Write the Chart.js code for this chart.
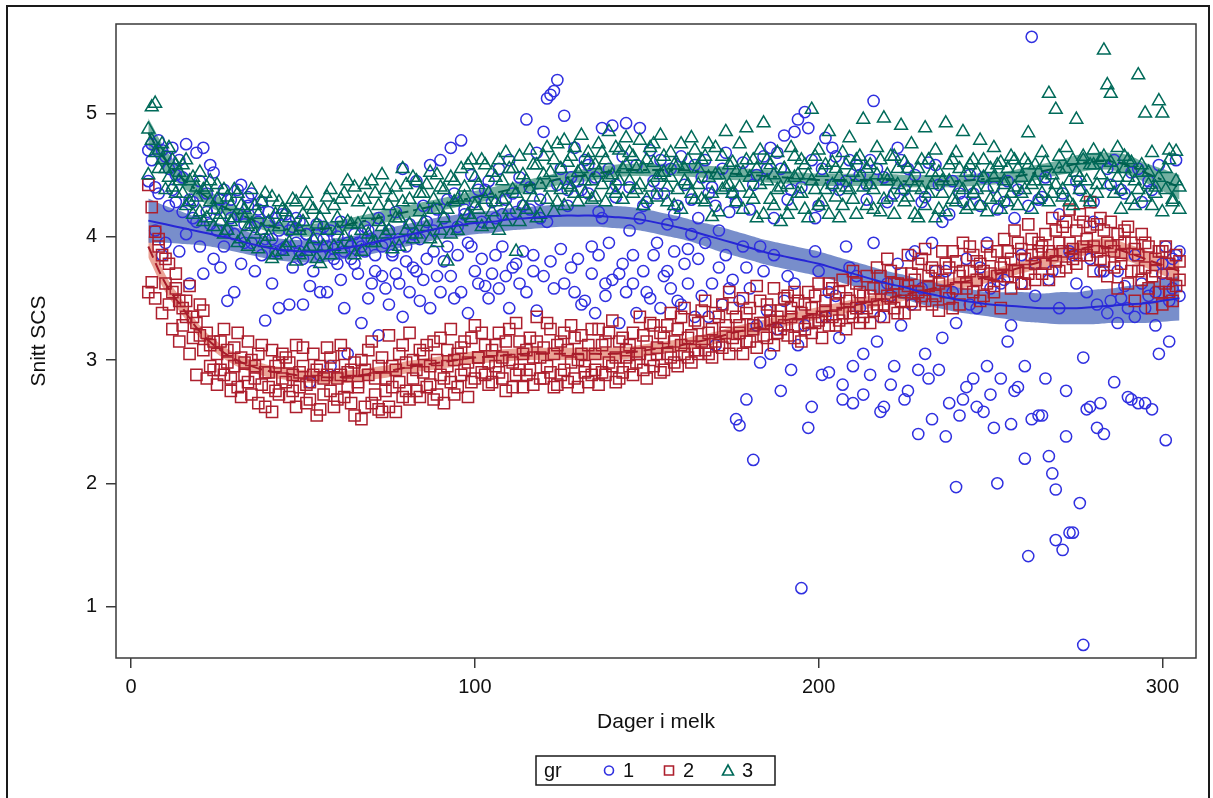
<!DOCTYPE html>
<html>
<head>
<meta charset="utf-8">
<title>Snitt SCS etter dager i melk</title>
<script src="https://cdn.jsdelivr.net/npm/chart.js@4.4.1/dist/chart.umd.min.js"></script>
<style>
  html, body { margin: 0; padding: 0; background: #fff; }
  #wrap { width: 1213px; height: 798px; }
</style>
</head>
<body>
<div id="wrap"><canvas id="c" width="1213" height="798"></canvas></div>
<script>
// Days in milk start at day 5; every group has two herd means per day (A and B).
const firstDay = 5;
const groupNames = ['1', '2', '3'];

// gr 1
const group1A = [
4.70,4.75,4.40,4.78,3.85,4.65,4.55,4.72,4.28,4.62,
4.48,4.75,4.30,4.15,4.68,3.92,4.72,4.35,4.10,4.52,
4.22,3.75,4.38,4.05,4.30,3.55,4.18,4.42,3.95,4.25,
4.35,3.72,4.12,4.28,3.98,4.20,3.62,4.15,4.05,3.90,
4.18,3.45,4.08,3.95,4.12,3.82,4.02,3.60,3.92,4.10,
3.85,3.98,3.55,4.05,3.90,3.78,4.12,3.42,3.95,3.82,
4.02,3.70,3.92,4.08,3.50,3.98,3.85,4.15,3.68,3.95,
4.05,3.88,4.20,3.62,4.55,3.92,4.10,3.75,4.45,3.98,
4.25,3.82,4.58,4.05,3.68,4.62,4.15,3.92,4.72,4.35,
4.08,4.78,4.22,3.95,4.50,3.72,4.38,4.12,3.60,4.45,
4.28,3.85,4.55,4.18,3.68,4.62,4.35,3.78,4.48,4.25,
4.95,4.40,3.72,4.68,4.30,4.85,4.12,3.80,5.18,5.27,
4.55,4.98,4.38,3.75,4.72,4.45,3.45,4.62,4.35,3.92,
4.48,4.20,4.88,3.62,4.55,4.90,4.32,3.70,4.65,4.92,
4.40,3.85,4.58,4.88,4.25,3.55,4.70,4.45,3.95,4.62,
4.35,3.72,4.55,4.18,3.48,4.65,4.42,3.90,4.30,4.58,
3.82,4.48,4.62,3.35,4.40,4.25,3.75,4.55,4.68,3.58,
4.35,2.52,2.47,4.60,3.75,4.22,2.19,4.50,3.92,4.65,
3.40,4.72,4.15,3.25,4.55,4.82,3.68,4.38,4.85,3.12,
1.15,5.01,2.45,4.62,3.88,4.25,2.88,4.80,3.55,4.42,
4.65,3.18,2.68,4.45,3.75,2.95,4.58,3.42,2.72,4.30,
4.62,5.10,3.15,2.58,4.48,3.62,2.80,4.35,4.72,3.28,
2.68,4.55,3.45,3.88,2.92,4.28,3.05,4.60,2.52,3.72,
4.42,3.18,2.38,4.18,3.55,1.97,4.35,2.68,3.82,4.50,
2.85,3.42,4.25,2.58,3.95,2.72,4.40,2.00,3.62,4.28,
3.15,2.48,4.15,2.78,3.85,2.20,1.41,5.62,3.52,2.55,
4.32,2.85,3.65,2.08,1.54,4.18,1.46,2.75,3.88,1.60,
4.45,1.84,0.69,3.55,2.62,4.28,2.45,3.72,2.40,4.55,
3.48,4.62,3.30,4.38,3.60,2.70,4.52,3.35,2.65,4.28,
3.42,4.45,2.60,3.55,4.58,3.78,2.35,3.48,3.82,4.62,
3.52];
const group1B = [
4.45,4.62,4.05,4.35,4.70,3.95,4.25,4.38,4.50,3.88,
4.20,4.02,3.62,4.28,4.12,4.45,3.70,4.20,4.58,3.82,
4.05,4.30,3.92,3.48,4.15,4.02,4.38,3.78,4.10,4.32,
3.95,4.08,4.22,3.85,3.32,4.12,3.98,3.88,3.42,4.18,
3.92,4.05,3.75,4.15,3.88,3.45,4.02,2.82,3.72,3.98,
3.55,4.08,3.92,2.95,3.82,4.00,3.65,3.88,3.05,3.92,
3.78,3.95,3.30,3.88,4.05,3.62,3.72,3.20,3.92,3.58,
3.45,3.85,3.70,3.98,3.35,3.80,3.55,4.02,3.72,3.48,
3.65,4.12,3.42,3.88,4.22,3.55,3.80,4.30,3.68,3.50,
3.85,3.55,4.18,3.38,3.92,4.28,3.62,3.82,4.38,3.50,
3.70,4.15,3.58,3.92,4.30,3.42,3.75,4.20,3.62,3.88,
3.55,4.22,3.85,3.40,4.15,3.68,5.12,5.15,3.58,4.42,
3.90,3.62,4.25,4.48,3.55,3.82,4.38,3.48,4.58,3.70,
3.38,3.85,4.15,3.52,3.95,3.65,4.42,3.30,3.78,3.55,
4.05,3.62,3.38,4.15,3.72,4.28,3.50,3.85,4.35,3.42,
3.68,4.10,3.58,3.88,4.25,3.45,3.78,3.62,4.02,3.35,
4.15,3.52,3.95,4.35,3.62,3.12,4.05,3.45,3.85,4.20,
3.65,4.28,3.48,3.92,2.68,3.58,4.42,3.28,2.98,3.72,
4.55,3.05,3.85,4.68,2.75,3.48,4.30,2.92,3.62,4.95,
4.40,3.28,4.88,2.62,4.15,3.72,4.55,3.35,2.90,4.72,
3.52,4.38,2.80,3.92,4.62,2.65,3.68,4.50,3.05,4.42,
2.88,3.95,4.55,3.35,2.62,4.28,3.52,2.95,3.78,4.62,
4.38,2.75,3.85,4.50,2.40,3.58,4.32,2.85,3.95,4.58,
2.92,4.12,3.72,2.65,4.45,3.30,2.55,4.28,2.78,3.45,
4.35,2.62,3.75,4.48,2.95,3.58,2.45,4.22,2.85,3.65,
4.45,3.28,2.75,4.38,3.62,2.95,4.25,2.52,3.78,4.30,
2.55,4.48,2.22,3.72,1.95,3.42,4.35,2.38,1.60,3.85,
3.62,4.38,3.02,2.60,3.82,4.12,3.45,2.65,3.72,3.38,
4.42,2.82,3.72,3.50,4.35,3.42,2.68,3.85,4.55,3.62,
2.65,3.52,4.38,3.28,3.05,3.70,3.92,3.15,3.58,3.85,
3.88];

// gr 2
const group2A = [
4.42,4.24,4.04,3.98,3.85,3.62,3.78,3.55,3.70,3.48,
3.42,3.35,3.60,3.18,3.30,3.45,3.08,3.22,2.95,3.15,
3.05,2.92,3.25,2.98,2.85,3.10,2.78,3.02,2.88,3.15,
2.72,2.95,3.05,2.80,2.62,2.90,3.08,2.75,2.98,2.85,
3.02,2.70,2.88,3.12,2.78,2.95,2.65,2.82,3.05,2.92,
2.60,2.85,3.10,2.75,2.95,2.68,2.88,3.05,2.78,2.92,
2.55,2.82,3.00,2.62,2.88,3.15,2.72,2.95,2.58,2.85,
3.20,2.78,2.92,3.05,2.70,2.98,3.22,2.85,2.75,3.08,
2.90,3.12,2.80,2.68,3.00,3.18,2.85,2.95,3.25,2.72,
3.05,2.88,3.15,2.98,2.82,3.28,3.02,2.90,3.12,2.80,
3.08,2.95,3.22,2.85,3.15,3.00,2.78,3.30,2.92,3.05,
2.88,3.18,3.02,3.35,2.85,3.10,2.95,3.25,3.05,2.80,
3.15,2.92,3.08,3.28,2.85,3.00,3.20,2.95,3.12,2.88,
3.05,3.25,2.90,3.15,2.98,3.32,3.02,2.85,3.18,3.08,
2.95,3.22,3.05,3.35,2.92,3.15,3.00,3.28,3.10,2.90,
3.18,3.05,3.38,2.98,3.25,3.12,3.42,3.02,3.20,3.08,
3.30,3.15,3.48,3.05,3.25,3.38,3.12,3.45,3.22,3.55,
3.18,3.35,3.28,3.50,3.15,3.42,3.25,3.60,3.30,3.20,
3.45,3.32,3.58,3.22,3.40,3.28,3.52,3.35,3.18,3.48,
3.38,3.25,3.55,3.42,3.30,3.62,3.35,3.48,3.28,3.58,
3.45,3.32,3.65,3.50,3.38,3.72,3.42,3.55,3.35,3.68,
3.52,3.40,3.75,3.58,3.45,3.82,3.50,3.62,3.38,3.70,
3.55,3.85,3.48,3.65,3.78,3.52,3.90,3.60,3.45,3.72,
3.62,3.88,3.55,3.75,3.42,3.80,3.68,3.95,3.58,3.72,
3.85,3.65,3.78,3.52,3.92,3.70,3.60,3.88,3.75,3.98,
3.68,3.82,4.05,3.72,3.90,3.62,4.10,3.85,3.78,3.95,
3.70,4.02,3.88,4.15,3.80,3.95,4.08,3.75,4.22,3.90,
4.05,3.85,4.12,3.98,4.28,3.92,4.10,3.82,4.05,3.95,
4.12,3.88,4.02,3.78,3.95,4.08,3.72,3.90,3.85,4.02,
3.75,3.92,3.68,3.82,3.55,3.88,3.62,3.78,3.48,3.85,
3.65];
const group2B = [
3.55,3.63,3.50,3.92,3.38,3.82,3.45,3.25,3.58,3.15,
3.28,3.48,3.05,3.35,2.88,3.20,3.40,2.85,3.12,2.92,
2.80,3.15,2.88,3.08,2.75,2.95,3.22,2.70,2.98,2.82,
3.00,2.85,2.65,3.12,2.90,2.78,2.58,2.95,2.72,3.05,
2.82,2.98,2.75,2.62,2.90,3.10,2.80,2.68,2.88,2.55,
2.95,2.72,2.88,3.02,2.62,2.85,3.12,2.70,2.90,2.65,
2.98,2.78,2.52,2.92,3.08,2.65,2.85,2.60,3.02,2.75,
2.62,2.95,2.58,2.82,3.12,2.75,2.68,3.00,2.92,2.70,
3.05,2.78,2.95,3.15,2.72,2.88,2.65,3.08,2.82,3.00,
2.78,3.10,2.92,2.70,3.18,2.85,3.02,3.22,2.88,2.98,
2.82,3.12,2.90,3.02,2.75,3.25,2.98,2.88,3.15,2.78,
3.08,2.92,2.80,3.15,3.02,2.85,3.30,2.90,2.78,3.12,
2.88,3.22,2.82,2.98,3.18,2.78,3.05,2.90,2.82,3.25,
2.92,2.80,3.12,2.88,3.22,2.95,2.82,3.15,2.90,3.02,
3.12,2.88,2.98,3.05,3.20,2.85,3.30,2.95,3.05,3.22,
2.92,3.28,3.02,3.15,2.95,3.35,3.05,3.18,2.98,3.32,
3.05,3.40,3.08,3.22,3.02,3.15,3.35,3.10,3.28,3.05,
3.42,3.12,3.22,3.05,3.38,3.15,3.28,3.10,3.48,3.30,
3.18,3.40,3.12,3.35,3.25,3.50,3.20,3.42,3.55,3.28,
3.15,3.45,3.30,3.22,3.52,3.32,3.18,3.40,3.62,3.35,
3.28,3.55,3.38,3.25,3.48,3.35,3.62,3.30,3.52,3.42,
3.30,3.58,3.45,3.68,3.35,3.52,3.72,3.42,3.62,3.48,
3.38,3.60,3.70,3.45,3.55,3.82,3.48,3.68,3.75,3.52,
3.40,3.65,3.78,3.50,3.88,3.58,3.45,3.72,3.62,3.92,
3.55,3.80,3.48,3.72,3.62,3.85,3.55,3.68,3.42,3.78,
3.88,3.58,3.72,3.95,3.62,3.82,3.70,3.98,3.65,3.88,
3.92,3.78,3.65,3.85,4.05,3.72,3.88,4.12,3.95,3.82,
3.78,4.18,3.92,3.85,4.08,3.72,3.88,4.15,3.80,3.68,
3.92,3.75,3.58,3.85,4.05,3.62,3.95,3.48,3.72,3.65,
3.95,3.58,3.42,3.72,3.88,3.45,3.92,3.55,3.70,3.60,
3.80];

// gr 3
const group3A = [
4.87,5.05,5.08,4.70,4.62,4.55,4.72,4.40,4.58,4.45,
4.35,4.62,4.28,4.48,4.40,4.20,4.38,4.15,4.45,4.22,
4.30,4.12,4.38,4.05,4.25,4.15,4.35,3.98,4.22,4.08,
4.38,4.02,4.18,4.28,3.95,4.12,4.32,3.85,4.08,4.22,
3.92,4.15,4.30,3.80,4.05,4.18,3.88,4.25,3.98,4.10,
3.78,4.22,4.05,4.38,3.92,4.15,4.30,4.00,4.45,4.10,
3.85,4.28,4.05,4.42,4.18,3.95,4.35,4.12,4.50,4.02,
4.25,3.90,4.40,4.15,4.55,4.05,4.30,3.98,4.45,4.20,
4.35,4.08,4.52,4.22,3.95,4.40,4.15,3.80,4.48,4.28,
4.05,4.55,4.32,4.18,4.62,4.25,4.42,4.08,4.58,4.35,
4.20,4.48,4.62,4.30,4.12,4.55,4.38,3.88,4.65,4.25,
4.45,4.70,4.32,4.58,4.18,4.50,4.72,4.40,4.62,4.28,
4.55,4.78,4.42,4.65,4.35,4.52,4.82,4.45,4.68,4.30,
4.58,4.75,4.42,4.62,4.85,4.50,4.35,4.70,4.55,4.80,
4.45,4.65,4.38,4.78,4.55,4.30,4.72,4.60,4.48,4.82,
4.52,4.40,4.68,4.25,4.58,4.75,4.45,4.62,4.35,4.70,
4.55,4.30,4.65,4.48,4.16,4.72,4.50,4.38,4.85,4.42,
4.60,4.28,4.75,4.52,4.88,4.35,4.62,4.15,4.70,4.92,
4.45,4.58,4.25,4.68,4.40,4.55,4.18,4.72,4.48,4.35,
4.62,4.22,4.50,5.03,4.38,4.70,4.28,4.58,4.85,4.42,
4.55,4.15,4.68,4.40,4.80,4.30,4.62,4.48,4.95,4.25,
4.58,4.38,4.72,4.20,4.96,4.50,4.32,4.65,4.42,4.90,
4.28,4.55,4.75,4.40,4.15,4.62,4.88,4.35,4.52,4.70,
4.22,4.45,4.92,4.58,4.30,4.68,4.40,4.85,4.52,4.25,
4.62,4.38,4.78,4.48,4.20,4.55,4.72,4.32,4.60,4.45,
4.28,4.65,4.40,4.55,4.35,4.62,4.84,4.42,4.58,4.30,
4.68,4.45,5.16,4.35,5.03,4.55,4.38,4.72,4.28,4.62,
4.95,4.48,4.65,4.32,4.58,4.70,4.42,4.62,5.51,5.23,
5.16,4.55,4.72,4.38,4.65,4.48,4.60,4.25,5.31,4.52,
5.00,4.42,4.68,4.35,5.10,5.00,4.55,4.70,4.30,4.69,
4.40];
const group3B = [
4.50,4.78,4.68,4.55,4.75,4.38,4.48,4.62,4.35,4.52,
4.58,4.25,4.45,4.18,4.32,4.52,4.12,4.40,4.28,4.08,
4.42,4.18,4.02,4.32,4.12,4.38,3.95,4.25,4.15,3.92,
4.10,4.25,3.90,4.05,4.35,4.00,3.82,4.18,4.28,3.88,
4.20,3.95,4.05,4.28,3.85,4.12,4.35,3.92,4.22,3.82,
4.15,3.92,4.32,3.85,4.25,4.05,3.90,4.35,4.12,3.95,
4.40,4.10,3.88,4.30,4.02,4.45,3.95,4.25,4.08,4.38,
4.05,4.32,4.15,3.92,4.28,4.42,4.10,4.48,4.02,4.35,
4.12,4.42,3.98,4.30,4.50,4.05,4.38,4.22,4.02,4.45,
4.30,4.12,4.40,4.58,4.15,4.48,4.22,4.62,4.30,4.10,
4.52,4.28,4.05,4.45,4.68,4.22,4.55,4.35,4.12,4.50,
4.22,4.38,4.58,4.15,4.42,4.65,4.30,4.52,4.20,4.75,
4.38,4.25,4.60,4.40,4.72,4.28,4.55,4.35,4.62,4.45,
4.32,4.52,4.68,4.28,4.48,4.38,4.72,4.45,4.30,4.58,
4.68,4.35,4.55,4.42,4.25,4.62,4.40,4.75,4.32,4.50,
4.65,4.28,4.48,4.58,4.38,4.22,4.55,4.42,4.80,4.30,
4.42,4.62,4.28,4.75,4.35,4.50,4.20,4.65,4.40,4.58,
4.35,4.52,4.40,4.22,4.62,4.48,4.30,4.55,4.42,4.18,
4.62,4.30,4.50,4.38,4.12,4.55,4.42,4.25,4.65,4.50,
4.35,4.58,4.15,4.45,4.65,4.25,4.52,4.38,4.18,4.60,
4.32,4.48,4.25,4.58,4.38,4.52,4.18,4.65,4.40,4.55,
4.42,4.22,4.50,4.62,4.30,4.45,4.65,4.18,4.55,4.38,
4.60,4.32,4.45,4.18,4.55,4.38,4.25,4.62,4.42,4.15,
4.52,4.35,4.20,4.45,4.62,4.28,4.55,4.38,4.22,4.58,
4.35,4.52,4.25,4.62,4.40,4.30,4.48,4.58,4.22,4.42,
4.55,4.35,4.62,4.25,4.48,4.38,4.58,4.22,4.45,4.52,
4.35,4.60,4.28,4.50,4.42,4.65,4.32,4.55,4.45,4.25,
4.52,4.38,4.62,4.45,4.28,4.58,4.35,4.50,4.65,4.42,
4.60,4.35,4.48,4.22,4.55,4.62,4.30,4.45,4.38,4.58,
4.32,4.52,4.25,4.40,4.48,4.20,4.38,4.62,4.28,4.45,
4.22];

// Smoothed group means with confidence limits, evaluated every 5 days from day 5.
const fitStep = 5;
const fit1 = [
4.13,4.10,4.07,4.04,4.01,3.98,3.94,3.91,3.89,3.88,
3.88,3.90,3.92,3.95,3.98,4.01,4.04,4.07,4.09,4.11,
4.12,4.14,4.15,4.16,4.17,4.17,4.17,4.16,4.15,4.13,
4.10,4.07,4.03,3.99,3.95,3.91,3.87,3.84,3.81,3.78,
3.74,3.70,3.66,3.62,3.59,3.55,3.52,3.49,3.47,3.45,
3.44,3.43,3.42,3.42,3.42,3.43,3.44,3.45,3.46,3.48,
3.50];
const clm1 = [
0.18,0.15,0.13,0.11,0.10,0.10,0.09,0.09,0.09,0.09,
0.09,0.09,0.09,0.09,0.09,0.09,0.09,0.09,0.09,0.09,
0.09,0.09,0.09,0.09,0.09,0.09,0.09,0.09,0.09,0.09,
0.09,0.09,0.09,0.10,0.10,0.10,0.10,0.10,0.10,0.10,
0.10,0.10,0.10,0.10,0.10,0.10,0.10,0.10,0.10,0.10,
0.11,0.12,0.12,0.13,0.13,0.14,0.14,0.15,0.16,0.17,
0.18];
const fit2 = [
3.92,3.62,3.42,3.23,3.10,3.01,2.95,2.91,2.89,2.87,
2.86,2.86,2.87,2.89,2.91,2.94,2.96,2.98,3.00,3.02,
3.03,3.04,3.05,3.05,3.05,3.05,3.05,3.05,3.06,3.08,
3.10,3.12,3.15,3.18,3.22,3.25,3.28,3.32,3.35,3.38,
3.41,3.44,3.47,3.50,3.53,3.56,3.59,3.62,3.65,3.68,
3.72,3.76,3.80,3.85,3.89,3.92,3.91,3.87,3.82,3.77,
3.72];
const clm2 = [
0.09,0.07,0.06,0.05,0.05,0.05,0.05,0.05,0.05,0.05,
0.05,0.05,0.05,0.05,0.05,0.05,0.05,0.05,0.05,0.05,
0.05,0.05,0.05,0.05,0.05,0.05,0.05,0.05,0.05,0.05,
0.05,0.05,0.05,0.05,0.05,0.05,0.05,0.05,0.05,0.05,
0.05,0.05,0.05,0.05,0.05,0.05,0.05,0.05,0.05,0.05,
0.05,0.05,0.06,0.06,0.06,0.06,0.07,0.07,0.07,0.08,
0.09];
const fit3 = [
4.84,4.62,4.47,4.36,4.27,4.20,4.14,4.09,4.06,4.05,
4.06,4.08,4.11,4.14,4.17,4.20,4.23,4.26,4.29,4.32,
4.35,4.38,4.41,4.44,4.47,4.49,4.51,4.53,4.54,4.54,
4.54,4.54,4.53,4.52,4.51,4.50,4.49,4.48,4.47,4.46,
4.46,4.46,4.46,4.46,4.45,4.45,4.45,4.45,4.46,4.47,
4.48,4.50,4.53,4.56,4.59,4.61,4.61,4.58,4.52,4.46,
4.40];
const clm3 = [
0.12,0.09,0.07,0.06,0.06,0.05,0.05,0.05,0.05,0.05,
0.05,0.05,0.05,0.05,0.05,0.05,0.05,0.05,0.05,0.05,
0.05,0.05,0.05,0.05,0.05,0.05,0.05,0.05,0.05,0.05,
0.05,0.05,0.05,0.05,0.05,0.05,0.05,0.05,0.05,0.05,
0.05,0.05,0.05,0.05,0.05,0.05,0.05,0.05,0.05,0.05,
0.05,0.06,0.06,0.06,0.07,0.07,0.07,0.08,0.08,0.09,
0.10];

const xTicks = [0, 100, 200, 300];
const yTicks = [1, 2, 3, 4, 5];
const xTitle = 'Dager i melk';
const yTitle = 'Snitt SCS';
const legendTitle = 'gr';

// Styling
const FONT = "'Liberation Sans', Arial, sans-serif";
const markerColors = ['#3030e0', '#ad1f2d', '#006a59'];
const bandColors = ['rgba(82,110,188,0.78)', 'rgba(226,125,105,0.7)', 'rgba(70,150,130,0.75)'];
const lineColors = ['#2626d6', '#a71c2a', '#00604f'];
const lineDash = [[], [12, 6], [12, 5, 4, 5]];
const pointStyles = ['circle', 'rect', 'triangle'];
const pointRadii = [5.6, 7.9, 7.4];

function scatterPoints(a, b) {
  const out = [];
  a.forEach((v, i) => out.push({ x: firstDay + i, y: v }));
  b.forEach((v, i) => out.push({ x: firstDay + i, y: v }));
  return out;
}
function curvePoints(fit, clm, side) {
  return fit.map((v, i) => ({ x: firstDay + i * fitStep, y: v + side * clm[i] }));
}

const groups = [
  { a: group1A, b: group1B, fit: fit1, clm: clm1 },
  { a: group2A, b: group2B, fit: fit2, clm: clm2 },
  { a: group3A, b: group3B, fit: fit3, clm: clm3 }
];

const datasets = [];
// confidence bands (drawn underneath)
groups.forEach((g, k) => {
  datasets.push({
    type: 'line', label: 'clm-lo-' + k, data: curvePoints(g.fit, g.clm, -1),
    borderWidth: 0, pointRadius: 0, fill: false, tension: 0.4, order: 30 + k
  });
  datasets.push({
    type: 'line', label: 'clm-hi-' + k, data: curvePoints(g.fit, g.clm, 1),
    borderWidth: 0, pointRadius: 0, fill: '-1', backgroundColor: bandColors[k],
    tension: 0.4, order: 30 + k
  });
});
// observations
groups.forEach((g, k) => {
  datasets.push({
    type: 'scatter', label: groupNames[k], data: scatterPoints(g.a, g.b),
    pointStyle: pointStyles[k], pointRadius: pointRadii[k], pointBorderWidth: 1.5,
    borderColor: markerColors[k], backgroundColor: 'rgba(0,0,0,0)',
    pointBackgroundColor: 'rgba(0,0,0,0)', order: 20 - k
  });
});
// fitted curves on top
groups.forEach((g, k) => {
  datasets.push({
    type: 'line', label: 'fit-' + k, data: curvePoints(g.fit, g.clm, 0),
    borderColor: lineColors[k], borderWidth: 2, borderDash: lineDash[k],
    pointRadius: 0, fill: false, tension: 0.4, order: k
  });
});

const decor = {
  id: 'decor',
  afterDraw(chart) {
    const ctx = chart.ctx;
    const a = chart.chartArea;
    ctx.save();
    // outer graph border
    ctx.strokeStyle = '#1a1a1a';
    ctx.lineWidth = 2;
    ctx.strokeRect(7, 6, 1202, 800);
    // plot frame
    ctx.strokeStyle = '#3a3a3a';
    ctx.lineWidth = 1.5;
    ctx.strokeRect(a.left, a.top, a.right - a.left, a.bottom - a.top);

    // axis titles
    ctx.fillStyle = '#111';
    ctx.font = '21px ' + FONT;
    ctx.textAlign = 'center';
    ctx.textBaseline = 'middle';
    ctx.fillText(xTitle, (a.left + a.right) / 2, 722);
    ctx.save();
    ctx.translate(39, (a.top + a.bottom) / 2);
    ctx.rotate(-Math.PI / 2);
    ctx.fillText(yTitle, 0, 0);
    ctx.restore();

    // legend
    const lx = 536, ly = 756, lw = 239, lh = 29;
    ctx.strokeStyle = '#1a1a1a';
    ctx.lineWidth = 1.5;
    ctx.strokeRect(lx, ly, lw, lh);
    const cy = ly + lh / 2;
    ctx.textAlign = 'left';
    ctx.font = '20px ' + FONT;
    ctx.fillStyle = '#111';
    ctx.fillText(legendTitle, lx + 8, cy + 1);
    const markerX = [609, 669, 728];
    markerX.forEach((mx, k) => {
      ctx.strokeStyle = markerColors[k];
      ctx.lineWidth = 1.6;
      ctx.beginPath();
      if (k === 0) {
        ctx.arc(mx, cy, 4.5, 0, Math.PI * 2);
      } else if (k === 1) {
        ctx.rect(mx - 4.5, cy - 4.5, 9, 9);
      } else {
        ctx.moveTo(mx, cy - 5.5);
        ctx.lineTo(mx + 5.5, cy + 4.5);
        ctx.lineTo(mx - 5.5, cy + 4.5);
        ctx.closePath();
      }
      ctx.stroke();
      ctx.fillStyle = '#111';
      ctx.fillText(groupNames[k], mx + 14, cy + 1);
    });
    ctx.restore();
  }
};

new Chart(document.getElementById('c'), {
  data: { datasets },
  options: {
    responsive: false,
    animation: false,
    events: [],
    layout: { padding: { left: 0, top: 24, right: 17, bottom: 0 } },
    plugins: { legend: { display: false }, tooltip: { enabled: false } },
    scales: {
      x: {
        type: 'linear', position: 'bottom', min: -4.4, max: 309.8,
        afterFit(scale) { scale.height = 140; },
        afterBuildTicks(scale) { scale.ticks = xTicks.map(v => ({ value: v })); },
        ticks: { font: { family: FONT, size: 20 }, color: '#111', padding: 7, maxRotation: 0, includeBounds: false },
        grid: { display: true, drawOnChartArea: false, drawTicks: true, tickLength: 10, color: '#3a3a3a', lineWidth: 1.5 },
        border: { display: false }
      },
      y: {
        type: 'linear', position: 'left', min: 0.584, max: 5.724,
        afterFit(scale) { scale.width = 116; },
        afterBuildTicks(scale) { scale.ticks = yTicks.map(v => ({ value: v })); },
        ticks: { font: { family: FONT, size: 20 }, color: '#111', padding: 9, includeBounds: false },
        grid: { display: true, drawOnChartArea: false, drawTicks: true, tickLength: 10, color: '#3a3a3a', lineWidth: 1.5 },
        border: { display: false }
      }
    }
  },
  plugins: [decor]
});
</script>
</body>
</html>
